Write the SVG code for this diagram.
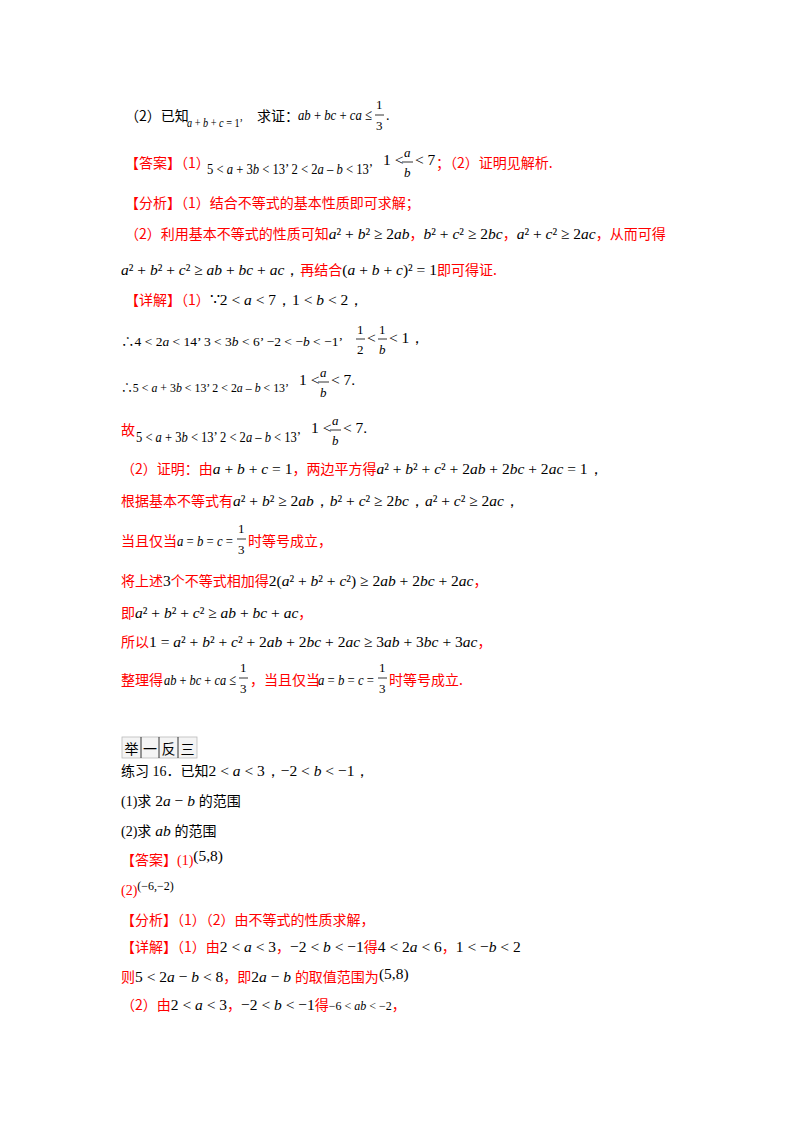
<svg xmlns="http://www.w3.org/2000/svg" width="800" height="1132" viewBox="0 0 800 1132">
<style>
text{font-family:"Liberation Serif","Noto Sans CJK SC",serif;font-size:14px;fill:#000}
.r{fill:#f00;font-family:"Noto Sans CJK SC",sans-serif}
.k{font-family:"Noto Sans CJK SC",sans-serif}
.m{fill:#000;font-family:"Liberation Serif",serif;font-size:15.5px}
.i{font-style:italic}
.f{font-size:13px}
line{stroke:#000;stroke-width:0.8}
</style>
<rect width="800" height="1132" fill="#fff"/>
<g id="p1">
<text x="125" y="121" class="k">（2）已知</text>
<text x="187" y="127" class="f" textLength="56" lengthAdjust="spacingAndGlyphs"><tspan class="i">a</tspan> + <tspan class="i">b</tspan> + <tspan class="i">c</tspan> = 1’</text>
<text x="257" y="121" class="k">求证：</text>
<text x="298" y="120" class="m" textLength="74" lengthAdjust="spacingAndGlyphs"><tspan class="i">ab</tspan> + <tspan class="i">bc</tspan> + <tspan class="i">ca</tspan> ≤</text>
<text x="376" y="109" class="f">1</text><line x1="375" y1="115" x2="384" y2="115"/><text x="376" y="130" class="f">3</text>
<text x="386" y="120">.</text>
</g>
<g id="ans">
<text x="125" y="168" class="r">【答案】（1）</text>
<text x="207" y="174" class="m" textLength="166" lengthAdjust="spacingAndGlyphs">5 &lt; <tspan class="i">a</tspan> + 3<tspan class="i">b</tspan> &lt; 13’  2 &lt; 2<tspan class="i">a</tspan> – <tspan class="i">b</tspan> &lt; 13’</text>
<text x="383" y="165" class="m">1 &lt;</text><text x="404" y="157" class="f i">a</text><line x1="402" y1="162" x2="413" y2="162"/><text x="404" y="177" class="f i">b</text><text x="415" y="165" class="m">&lt; 7</text>
<text x="436" y="168" class="r">；（2）证明见解析.</text>
</g>
<g id="an">
<text x="125" y="208" class="r">【分析】（1）结合不等式的基本性质即可求解；</text>
<text x="125" y="239" class="r">（2）利用基本不等式的性质可知<tspan class="m"><tspan class="i">a</tspan>² + <tspan class="i">b</tspan>² ≥ 2<tspan class="i">ab</tspan></tspan>，<tspan class="m"><tspan class="i">b</tspan>² + <tspan class="i">c</tspan>² ≥ 2<tspan class="i">bc</tspan></tspan>，<tspan class="m"><tspan class="i">a</tspan>² + <tspan class="i">c</tspan>² ≥ 2<tspan class="i">ac</tspan></tspan>，从而可得</text>
<text x="121" y="275" class="m"><tspan class="i">a</tspan>² + <tspan class="i">b</tspan>² + <tspan class="i">c</tspan>² ≥ <tspan class="i">ab</tspan> + <tspan class="i">bc</tspan> + <tspan class="i">ac</tspan>，<tspan class="r" font-size="14">再结合</tspan>(<tspan class="i">a</tspan> + <tspan class="i">b</tspan> + <tspan class="i">c</tspan>)² = 1<tspan class="r" font-size="14">即可得证.</tspan></text>
</g>
<g id="d1">
<text x="125" y="305" class="r">【详解】（1）<tspan class="m">∵2 &lt; <tspan class="i">a</tspan> &lt; 7，1 &lt; <tspan class="i">b</tspan> &lt; 2，</tspan></text>
<text x="121" y="346" class="f" textLength="222" lengthAdjust="spacingAndGlyphs">∴4 &lt; 2<tspan class="i">a</tspan> &lt; 14’  3 &lt; 3<tspan class="i">b</tspan> &lt; 6’  −2 &lt; −<tspan class="i">b</tspan> &lt; −1’</text>
<text x="357" y="334" class="f">1</text><line x1="356" y1="339" x2="365" y2="339"/><text x="357" y="354" class="f">2</text>
<text x="367" y="343" class="m">&lt;</text>
<text x="379" y="334" class="f">1</text><line x1="378" y1="339" x2="387" y2="339"/><text x="379" y="354" class="f i">b</text>
<text x="389" y="343" class="m">&lt; 1，</text>
<text x="121" y="392" class="f" textLength="168" lengthAdjust="spacingAndGlyphs">∴5 &lt; <tspan class="i">a</tspan> + 3<tspan class="i">b</tspan> &lt; 13’  2 &lt; 2<tspan class="i">a</tspan> – <tspan class="i">b</tspan> &lt; 13’</text>
<text x="299" y="385" class="m">1 &lt;</text><text x="320" y="377" class="f i">a</text><line x1="318" y1="382" x2="329" y2="382"/><text x="320" y="397" class="f i">b</text><text x="331" y="385" class="m">&lt; 7.</text>
<text x="121" y="435" class="r">故</text>
<text x="136" y="442" class="m" textLength="165" lengthAdjust="spacingAndGlyphs">5 &lt; <tspan class="i">a</tspan> + 3<tspan class="i">b</tspan> &lt; 13’  2 &lt; 2<tspan class="i">a</tspan> – <tspan class="i">b</tspan> &lt; 13’</text>
<text x="311" y="433" class="m">1 &lt;</text><text x="332" y="425" class="f i">a</text><line x1="330" y1="430" x2="341" y2="430"/><text x="332" y="445" class="f i">b</text><text x="343" y="433" class="m">&lt; 7.</text>
</g>
<g id="d2">
<text x="121" y="474" class="r">（2）证明：由<tspan class="m"><tspan class="i">a</tspan> + <tspan class="i">b</tspan> + <tspan class="i">c</tspan> = 1</tspan>，两边平方得<tspan class="m"><tspan class="i">a</tspan>² + <tspan class="i">b</tspan>² + <tspan class="i">c</tspan>² + 2<tspan class="i">ab</tspan> + 2<tspan class="i">bc</tspan> + 2<tspan class="i">ac</tspan> = 1，</tspan></text>
<text x="121" y="506" class="r">根据基本不等式有<tspan class="m"><tspan class="i">a</tspan>² + <tspan class="i">b</tspan>² ≥ 2<tspan class="i">ab</tspan>，<tspan class="i">b</tspan>² + <tspan class="i">c</tspan>² ≥ 2<tspan class="i">bc</tspan>，<tspan class="i">a</tspan>² + <tspan class="i">c</tspan>² ≥ 2<tspan class="i">ac</tspan>，</tspan></text>
<text x="121" y="546" class="r">当且仅当</text>
<text x="177" y="546" class="m" textLength="56" lengthAdjust="spacingAndGlyphs"><tspan class="i">a</tspan> = <tspan class="i">b</tspan> = <tspan class="i">c</tspan> =</text>
<text x="238" y="533" class="f">1</text><line x1="237" y1="539" x2="246" y2="539"/><text x="238" y="554" class="f">3</text>
<text x="248" y="546" class="r">时等号成立，</text>
<text x="121" y="586" class="r">将上述<tspan class="m">3</tspan>个不等式相加得<tspan class="m">2(<tspan class="i">a</tspan>² + <tspan class="i">b</tspan>² + <tspan class="i">c</tspan>²) ≥ 2<tspan class="i">ab</tspan> + 2<tspan class="i">bc</tspan> + 2<tspan class="i">ac</tspan></tspan>，</text>
<text x="121" y="618" class="r">即<tspan class="m"><tspan class="i">a</tspan>² + <tspan class="i">b</tspan>² + <tspan class="i">c</tspan>² ≥ <tspan class="i">ab</tspan> + <tspan class="i">bc</tspan> + <tspan class="i">ac</tspan></tspan>，</text>
<text x="121" y="647" class="r">所以<tspan class="m">1 = <tspan class="i">a</tspan>² + <tspan class="i">b</tspan>² + <tspan class="i">c</tspan>² + 2<tspan class="i">ab</tspan> + 2<tspan class="i">bc</tspan> + 2<tspan class="i">ac</tspan> ≥ 3<tspan class="i">ab</tspan> + 3<tspan class="i">bc</tspan> + 3<tspan class="i">ac</tspan></tspan>，</text>
<text x="121" y="685" class="r">整理得</text>
<text x="164" y="685" class="m" textLength="72" lengthAdjust="spacingAndGlyphs"><tspan class="i">ab</tspan> + <tspan class="i">bc</tspan> + <tspan class="i">ca</tspan> ≤</text>
<text x="240" y="672" class="f">1</text><line x1="239" y1="678" x2="248" y2="678"/><text x="240" y="693" class="f">3</text>
<text x="250" y="685" class="r">，当且仅当</text>
<text x="318" y="685" class="m" textLength="56" lengthAdjust="spacingAndGlyphs"><tspan class="i">a</tspan> = <tspan class="i">b</tspan> = <tspan class="i">c</tspan> =</text>
<text x="379" y="672" class="f">1</text><line x1="378" y1="678" x2="387" y2="678"/><text x="379" y="693" class="f">3</text>
<text x="389" y="685" class="r">时等号成立.</text>
</g>
<g id="box">
<rect x="122" y="737" width="75" height="21" fill="#f4f4f4" stroke="#bbb" stroke-width="0.8"/>
<line x1="141" y1="737" x2="141" y2="758" stroke="#bbb"/><line x1="159" y1="737" x2="159" y2="758" stroke="#bbb"/><line x1="178" y1="737" x2="178" y2="758" stroke="#bbb"/>
<text y="754" class="k" font-size="17" text-anchor="middle"><tspan x="131.5">举</tspan><tspan x="150">一</tspan><tspan x="168.5">反</tspan><tspan x="187.5">三</tspan></text>
</g>
<g id="ex">
<text x="121" y="776" class="k">练习<tspan font-family="Liberation Serif"> 16</tspan>．已知<tspan class="m">2 &lt; <tspan class="i">a</tspan> &lt; 3，−2 &lt; <tspan class="i">b</tspan> &lt; −1，</tspan></text>
<text x="121" y="806"><tspan>(1)</tspan><tspan class="k">求</tspan><tspan class="m"> 2<tspan class="i">a</tspan> − <tspan class="i">b</tspan> </tspan><tspan class="k">的范围</tspan></text>
<text x="121" y="836"><tspan>(2)</tspan><tspan class="k">求</tspan><tspan class="m"> <tspan class="i">ab</tspan> </tspan><tspan class="k">的范围</tspan></text>
<text x="121" y="865" class="r">【答案】<tspan font-family="Liberation Serif">(1)</tspan><tspan class="m" dy="-4">(5,8)</tspan></text>
<text x="121" y="895" class="r"><tspan font-family="Liberation Serif">(2)</tspan><tspan fill="#000" font-family="Liberation Serif" font-size="12" dy="-5">(−6,−2)</tspan></text>
<text x="121" y="925" class="r">【分析】（1）（2）由不等式的性质求解，</text>
<text x="121" y="952" class="r">【详解】（1）由<tspan class="m">2 &lt; <tspan class="i">a</tspan> &lt; 3</tspan>，<tspan class="m">−2 &lt; <tspan class="i">b</tspan> &lt; −1</tspan>得<tspan class="m">4 &lt; 2<tspan class="i">a</tspan> &lt; 6</tspan>，<tspan class="m">1 &lt; −<tspan class="i">b</tspan> &lt; 2</tspan></text>
<text x="121" y="982" class="r">则<tspan class="m">5 &lt; 2<tspan class="i">a</tspan> − <tspan class="i">b</tspan> &lt; 8</tspan>，即<tspan class="m">2<tspan class="i">a</tspan> − <tspan class="i">b</tspan> </tspan>的取值范围为<tspan class="m" dy="-3">(5,8)</tspan></text>
<text x="121" y="1010" class="r">（2）由<tspan class="m">2 &lt; <tspan class="i">a</tspan> &lt; 3</tspan>，<tspan class="m">−2 &lt; <tspan class="i">b</tspan> &lt; −1</tspan>得<tspan fill="#000" font-family="Liberation Serif" font-size="12">−6 &lt; <tspan class="i">ab</tspan> &lt; −2</tspan>，</text>
</g>
</svg>
